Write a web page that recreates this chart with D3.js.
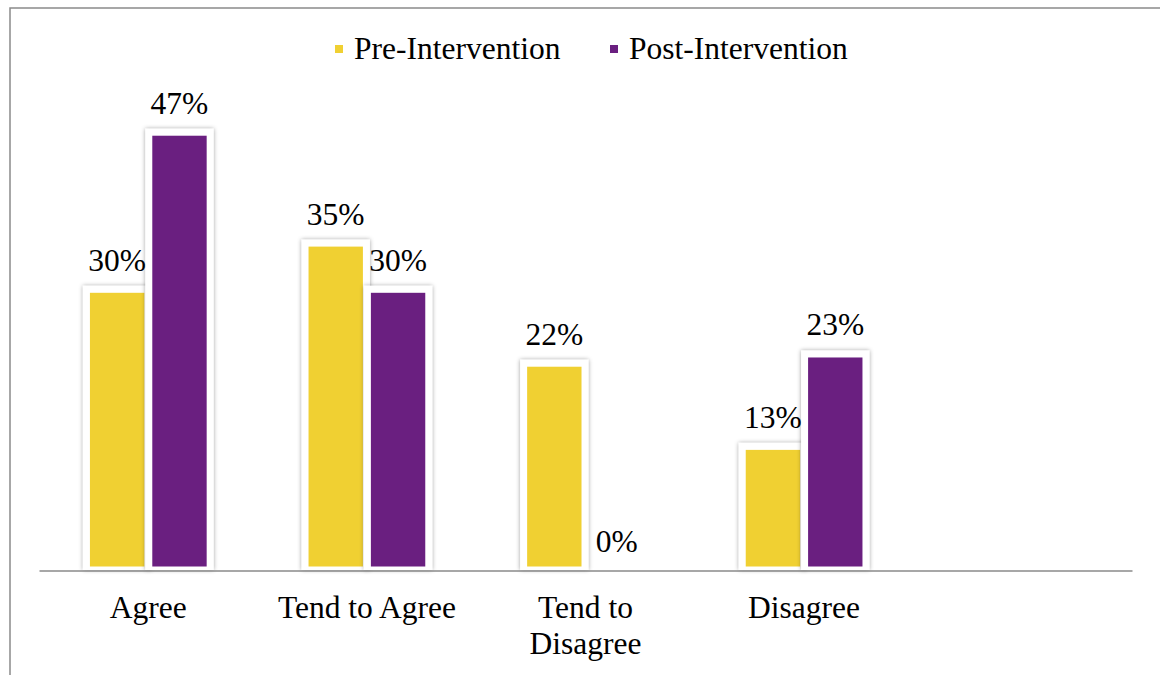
<!DOCTYPE html>
<html>
<head>
<meta charset="utf-8">
<script src="https://cdn.jsdelivr.net/npm/d3@7"></script>
<style>
  html, body { margin: 0; padding: 0; background: #fff; }
  svg { display: block; }
  text { font-family: "Liberation Serif", "Times New Roman", serif; fill: #000; }
</style>
</head>
<body>
<svg id="chart" width="1160" height="675"></svg>
<script>
// Survey responses before and after the intervention (percent of respondents)
const categories = ["Agree", "Tend to Agree", "Tend to Disagree", "Disagree"];
const seriesNames = ["Pre-Intervention", "Post-Intervention"];
const preValues = [30, 35, 22, 13];
const postValues = [47, 30, 0, 23];
const seriesColors = ["#F0D032", "#6A1F80"];

const W = 1160, H = 675;
const svg = d3.select("#chart");
const fontSize = 31.5;

// Outer frame
svg.append("rect")
  .attr("x", 10).attr("y", 8)
  .attr("width", W).attr("height", H)
  .attr("fill", "none")
  .attr("stroke", "#8a8a8a")
  .attr("stroke-width", 1.5);

// Soft grey glow around each bar's white surround
const defs = svg.append("defs");
const f = defs.append("filter").attr("id", "glow")
  .attr("x", "-30%").attr("y", "-10%").attr("width", "160%").attr("height", "120%");
f.append("feDropShadow")
  .attr("dx", 0).attr("dy", 0).attr("stdDeviation", 2)
  .attr("flood-color", "#000").attr("flood-opacity", 0.38);

// Scales: one extra empty slot at the right end of the axis
const slots = categories.concat([""]);
const axisLeft = 39, axisRight = 1132, baseY = 570;
const x = d3.scaleBand().domain(slots).range([axisLeft, axisRight]).padding(0);
const x1 = d3.scaleBand().domain(seriesNames)
  .range([x.bandwidth() * 0.233, x.bandwidth() * 0.767])
  .paddingInner(0.128);
const y = d3.scaleLinear().domain([0, 50]).range([baseY, 108]);

const rows = categories.map((c, i) => ({
  cat: c,
  vals: [
    { s: seriesNames[0], v: preValues[i], color: seriesColors[0] },
    { s: seriesNames[1], v: postValues[i], color: seriesColors[1] }
  ]
}));

const frame = 7;
const groups = svg.append("g").selectAll("g").data(rows).join("g")
  .attr("transform", d => `translate(${x(d.cat)},0)`);

groups.each(function(d) {
  const g = d3.select(this);
  d.vals.forEach(b => {
    if (b.v > 0) {
      // white surround with glow
      g.append("rect")
        .attr("x", x1(b.s) - frame)
        .attr("y", y(b.v) - frame)
        .attr("width", x1.bandwidth() + 2 * frame)
        .attr("height", baseY - y(b.v) + frame)
        .attr("fill", "#fff")
        .attr("filter", "url(#glow)");
      // coloured bar
      g.append("rect")
        .attr("x", x1(b.s))
        .attr("y", y(b.v))
        .attr("width", x1.bandwidth())
        .attr("height", Math.max(0, baseY - 3.5 - y(b.v)))
        .attr("fill", b.color);
    }
  });
});

// Value labels above bars
groups.each(function(d) {
  const g = d3.select(this);
  d.vals.forEach(b => {
    g.append("text")
      .attr("x", x1(b.s) + x1.bandwidth() / 2)
      .attr("y", b.v > 0 ? y(b.v) - 22 : y(b.v) - 18)
      .attr("text-anchor", "middle")
      .attr("font-size", fontSize)
      .text(b.v + "%");
  });
});

// Category axis
const axis = svg.append("g")
  .attr("transform", `translate(0,${baseY + 0.5})`)
  .call(d3.axisBottom(x).tickSize(0).tickPadding(0));
axis.select(".domain").attr("stroke", "#8a8a8a").attr("stroke-width", 1.5);
axis.selectAll(".tick text").remove();

// Category labels, wrapped to fit the band
const maxW = x.bandwidth() * 0.92;
categories.forEach(c => {
  const t = svg.append("text")
    .attr("x", x(c) + x.bandwidth() / 2)
    .attr("y", 618)
    .attr("text-anchor", "middle")
    .attr("font-size", fontSize);
  const words = c.split(" ");
  let line = [];
  let tspan = t.append("tspan").attr("x", x(c) + x.bandwidth() / 2).attr("dy", 0);
  words.forEach(w => {
    line.push(w);
    tspan.text(line.join(" "));
    if (tspan.node().getComputedTextLength() > maxW && line.length > 1) {
      line.pop();
      tspan.text(line.join(" "));
      line = [w];
      tspan = t.append("tspan").attr("x", x(c) + x.bandwidth() / 2).attr("dy", 36).text(w);
    }
  });
});

// Legend
const legendItems = [
  { name: seriesNames[0], color: seriesColors[0], x: 335 },
  { name: seriesNames[1], color: seriesColors[1], x: 610 }
];
const lg = svg.append("g").selectAll("g").data(legendItems).join("g")
  .attr("transform", d => `translate(${d.x},0)`);
lg.append("rect").attr("x", 0).attr("y", 45).attr("width", 8).attr("height", 8)
  .attr("fill", d => d.color);
lg.append("text").attr("x", 19).attr("y", 59)
  .attr("font-size", fontSize)
  .text(d => d.name);
</script>
</body>
</html>
